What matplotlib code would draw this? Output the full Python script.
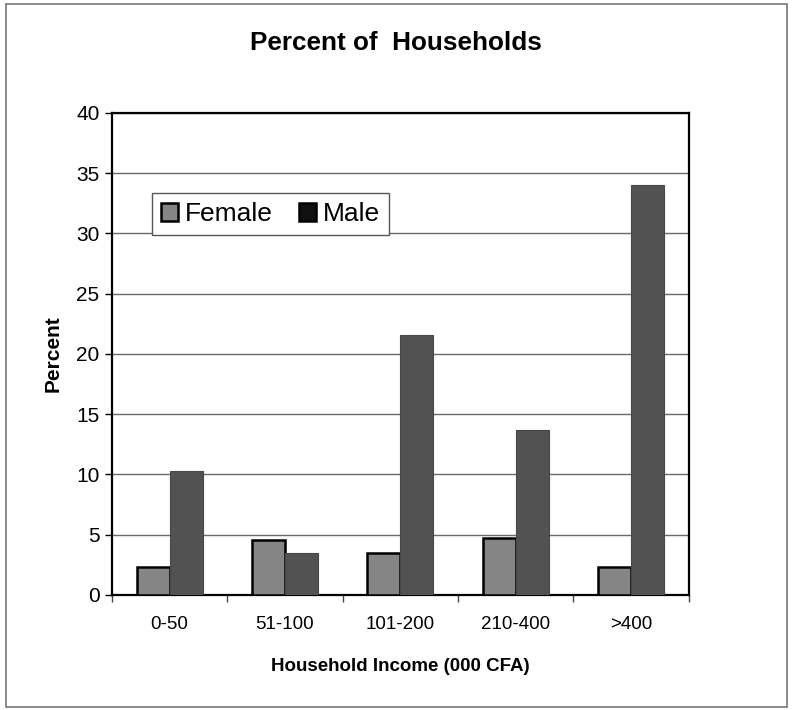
import matplotlib
matplotlib.use("Agg")
import matplotlib.pyplot as plt
from matplotlib.patches import Patch, Rectangle
import numpy as np

plt.rcParams['font.family'] = ['Liberation Sans', 'DejaVu Sans']

categories = ["0-50", "51-100", "101-200", "210-400", ">400"]
female = [2.3, 4.6, 3.5, 4.7, 2.3]
male = [10.3, 3.5, 21.6, 13.7, 34.0]
yticks = [0, 5, 10, 15, 20, 25, 30, 35, 40]

female_color = "#858585"
male_color = "#525252"

fig = plt.figure(figsize=(7.92, 7.10), dpi=100)
fig.patch.set_facecolor("white")

# outer frame around the whole chart
fig.add_artist(Rectangle((0.007, 0.004), 0.987, 0.99, transform=fig.transFigure,
                         fill=False, edgecolor="#777777", linewidth=1.2))

ax = fig.add_axes([0.1414, 0.162, 0.728, 0.679])

x = np.arange(len(categories))
w = 0.286
ax.bar(x - w / 2, female, width=w, color=female_color, edgecolor="black",
       linewidth=1.8, zorder=3)
ax.bar(x + w / 2, male, width=w, color=male_color, edgecolor="#474747",
       linewidth=0.8, zorder=3)

ax.set_xlim(-0.5, len(categories) - 0.5)
ax.set_ylim(0, 40)
ax.set_yticks(yticks)
ax.yaxis.grid(True, color="#6a6a6a", linewidth=1.0, zorder=0)
ax.set_axisbelow(True)

ax.set_xticks(x)
ax.set_xticklabels(categories, fontsize=13.5)
ax.tick_params(axis="x", which="major", length=0, pad=15)
ax.set_xticks(np.arange(len(categories) + 1) - 0.5, minor=True)
ax.tick_params(axis="x", which="minor", length=5, width=1, direction="out",
               color="#444444")
ax.tick_params(axis="y", labelsize=15, length=5, width=1, direction="out",
               pad=4)

for s in ax.spines.values():
    s.set_linewidth(1.6)
    s.set_color("black")

ax.set_ylabel("Percent", fontsize=15, fontweight="bold", labelpad=10)
ax.set_xlabel("Household Income (000 CFA)", fontsize=13.5, fontweight="bold",
              labelpad=18)
fig.text(0.5, 0.94, "Percent of  Households", ha="center", va="center",
         fontsize=18.8, fontweight="bold")

handles = [Patch(facecolor=female_color, edgecolor="black", linewidth=1.8),
           Patch(facecolor="#111111", edgecolor="black", linewidth=1.8)]
leg = ax.legend(handles, ["Female", "Male"], loc="upper left",
                bbox_to_anchor=(0.069, 0.834), borderaxespad=0, ncol=2,
                fontsize=19, frameon=True, fancybox=False, shadow=False,
                handlelength=0.65, handleheight=0.65, handletextpad=0.25,
                columnspacing=1.0, borderpad=0.35)
leg.get_frame().set_edgecolor("#555555")
leg.get_frame().set_linewidth(1.0)
leg.get_frame().set_alpha(1)
leg.set_zorder(5)

fig.savefig("out.png", dpi=100, facecolor="white")
